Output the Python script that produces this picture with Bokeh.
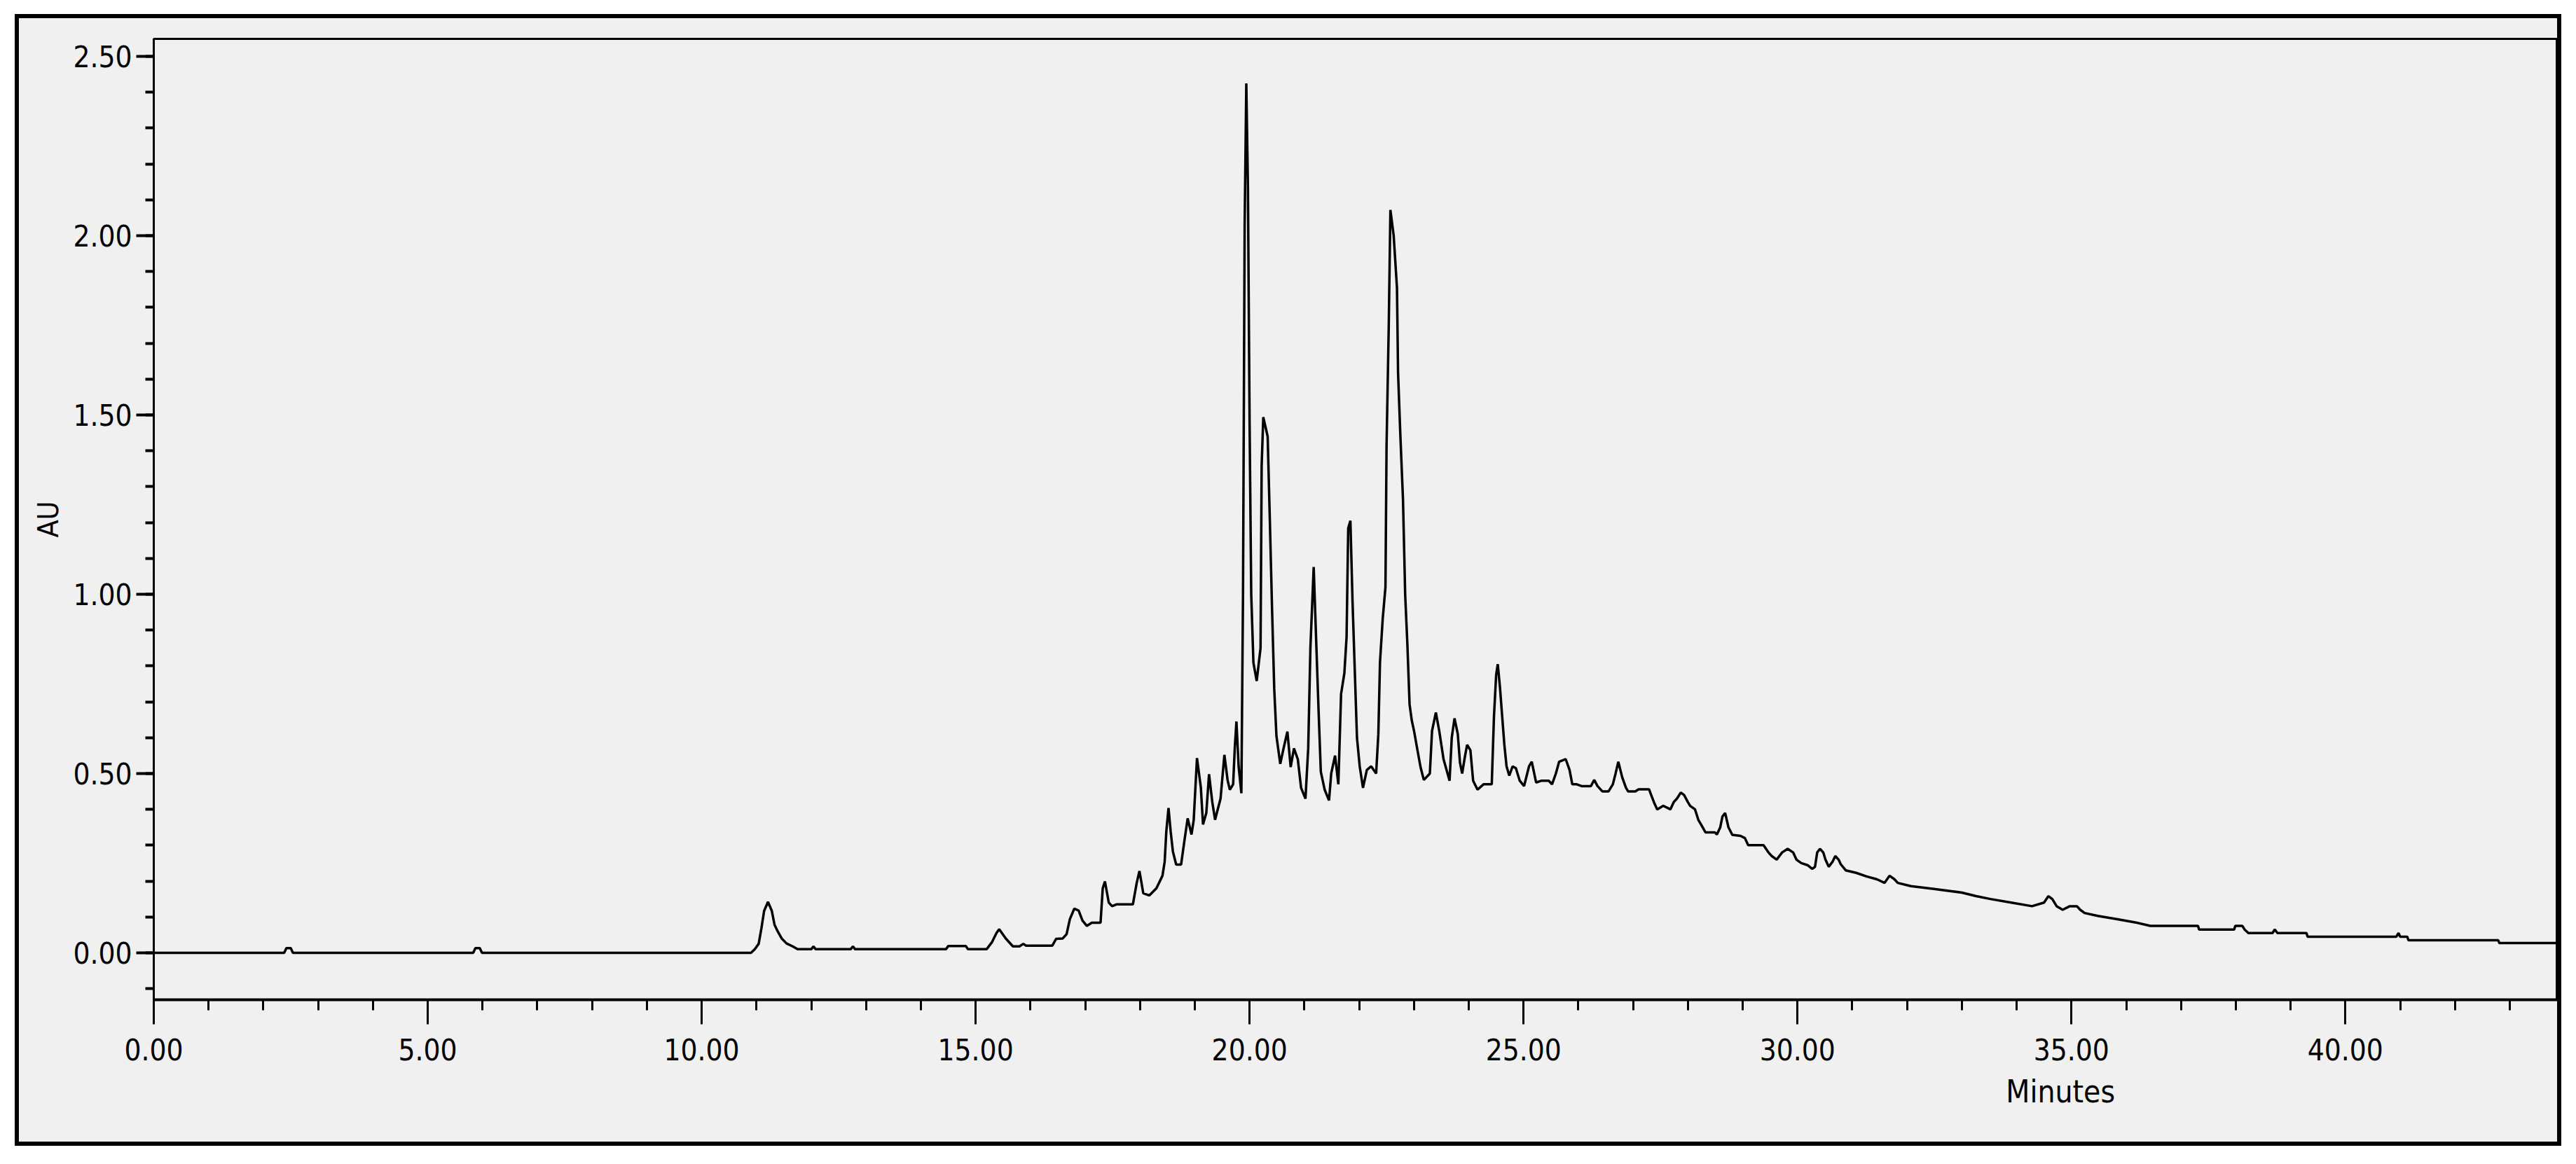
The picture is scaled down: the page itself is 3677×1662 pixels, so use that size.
from bokeh.plotting import figure
from bokeh.models import (Range1d, FixedTicker, PrintfTickFormatter, ColumnDataSource,
                          LinearAxis, CustomJSTickFormatter)
from bokeh.embed import file_html
from bokeh.resources import INLINE

# ---- data ----
TIME_MIN = [
    0.00, 2.38, 2.42, 2.50, 2.54, 5.83, 5.87, 5.95, 5.99, 10.90, 10.97, 11.04, 11.09, 11.14, 11.21,
    11.28, 11.33, 11.39, 11.46, 11.55, 11.66, 11.75, 12.00, 12.04, 12.08, 12.72, 12.76, 12.80,
    14.46, 14.50, 14.82, 14.86, 15.20, 15.30, 15.38, 15.43, 15.55, 15.68, 15.80, 15.87, 15.92,
    16.40, 16.47, 16.59, 16.66, 16.72, 16.80, 16.88, 16.95, 17.03, 17.12, 17.28, 17.32, 17.36,
    17.43, 17.49, 17.57, 17.87, 17.94, 17.99, 18.06, 18.17, 18.30, 18.41, 18.45, 18.48, 18.52,
    18.56, 18.60, 18.66, 18.75, 18.81, 18.87, 18.94, 18.98, 19.04, 19.11, 19.15, 19.21, 19.26,
    19.32, 19.37, 19.47, 19.54, 19.60, 19.64, 19.70, 19.73, 19.76, 19.80, 19.85, 19.88, 19.91,
    19.94, 19.97, 20.00, 20.03, 20.07, 20.13, 20.20, 20.22, 20.25, 20.33, 20.37, 20.41, 20.45,
    20.49, 20.56, 20.62, 20.69, 20.75, 20.81, 20.88, 20.94, 21.02, 21.07, 21.11, 21.15, 21.17,
    21.22, 21.26, 21.30, 21.37, 21.45, 21.49, 21.56, 21.62, 21.67, 21.73, 21.77, 21.80, 21.84,
    21.88, 21.92, 21.96, 22.01, 22.07, 22.14, 22.22, 22.31, 22.35, 22.38, 22.43, 22.48, 22.50,
    22.54, 22.57, 22.63, 22.69, 22.71, 22.75, 22.80, 22.84, 22.88, 22.92, 22.96, 23.00, 23.07,
    23.12, 23.18, 23.29, 23.33, 23.40, 23.46, 23.54, 23.65, 23.69, 23.74, 23.80, 23.84, 23.88,
    23.93, 23.97, 24.03, 24.08, 24.16, 24.27, 24.42, 24.46, 24.50, 24.53, 24.57, 24.61, 24.65,
    24.69, 24.74, 24.80, 24.86, 24.93, 25.01, 25.10, 25.15, 25.23, 25.33, 25.46, 25.52, 25.59,
    25.65, 25.77, 25.84, 25.89, 25.97, 26.06, 26.23, 26.29, 26.35, 26.44, 26.55, 26.63, 26.68,
    26.73, 26.80, 26.87, 26.91, 27.04, 27.10, 27.29, 27.33, 27.38, 27.44, 27.55, 27.68, 27.74,
    27.80, 27.87, 27.93, 28.00, 28.04, 28.13, 28.19, 28.25, 28.32, 28.49, 28.53, 28.59, 28.63,
    28.68, 28.74, 28.81, 28.96, 29.04, 29.10, 29.38, 29.47, 29.53, 29.62, 29.72, 29.82, 29.92,
    29.98, 30.07, 30.19, 30.27, 30.32, 30.36, 30.41, 30.47, 30.51, 30.57, 30.64, 30.69, 30.75,
    30.79, 30.88, 31.07, 31.26, 31.45, 31.59, 31.68, 31.77, 31.83, 32.07, 32.49, 33.00, 33.26,
    33.52, 33.90, 34.28, 34.50, 34.58, 34.65, 34.73, 34.84, 34.97, 35.10, 35.16, 35.24, 35.48,
    35.82, 36.16, 36.44, 37.31, 37.33, 37.97, 37.99, 38.12, 38.16, 38.23, 38.67, 38.71, 38.76,
    39.29, 39.31, 40.93, 40.97, 41.00, 41.13, 41.15, 42.79, 42.81, 43.87,
]
ABSORBANCE_AU = [
    0.000, 0.000, 0.013, 0.013, 0.000, 0.000, 0.013, 0.013, 0.000, 0.000, 0.010, 0.025, 0.068, 0.117, 0.142,
    0.117, 0.078, 0.059, 0.040, 0.026, 0.018, 0.010, 0.010, 0.018, 0.010, 0.010, 0.018, 0.010,
    0.010, 0.019, 0.019, 0.010, 0.010, 0.030, 0.055, 0.066, 0.040, 0.018, 0.018, 0.025, 0.020,
    0.020, 0.039, 0.040, 0.052, 0.094, 0.123, 0.118, 0.090, 0.075, 0.084, 0.084, 0.180, 0.199,
    0.140, 0.130, 0.135, 0.135, 0.195, 0.228, 0.166, 0.160, 0.180, 0.215, 0.254, 0.338, 0.404,
    0.338, 0.283, 0.246, 0.246, 0.312, 0.375, 0.330, 0.370, 0.543, 0.462, 0.358, 0.390, 0.498,
    0.420, 0.371, 0.430, 0.552, 0.480, 0.455, 0.470, 0.572, 0.645, 0.520, 0.445, 1.000, 2.030,
    2.425, 2.137, 1.480, 1.000, 0.809, 0.758, 0.850, 1.357, 1.494, 1.440, 1.205, 0.960, 0.736,
    0.605, 0.527, 0.570, 0.617, 0.518, 0.570, 0.540, 0.460, 0.430, 0.570, 0.851, 1.000, 1.076,
    0.850, 0.672, 0.505, 0.455, 0.425, 0.500, 0.550, 0.470, 0.722, 0.780, 0.880, 1.184, 1.205,
    0.975, 0.787, 0.600, 0.520, 0.460, 0.510, 0.520, 0.500, 0.610, 0.810, 0.932, 1.020, 1.416,
    1.748, 2.072, 2.000, 1.855, 1.617, 1.450, 1.264, 0.998, 0.860, 0.693, 0.648, 0.620, 0.560,
    0.518, 0.482, 0.500, 0.619, 0.670, 0.620, 0.540, 0.480, 0.600, 0.654, 0.610, 0.530, 0.500,
    0.547, 0.580, 0.565, 0.480, 0.455, 0.470, 0.470, 0.658, 0.775, 0.805, 0.740, 0.660, 0.580,
    0.520, 0.494, 0.520, 0.515, 0.480, 0.465, 0.520, 0.533, 0.475, 0.480, 0.480, 0.470, 0.500,
    0.533, 0.540, 0.510, 0.470, 0.470, 0.465, 0.465, 0.482, 0.465, 0.450, 0.450, 0.470, 0.500,
    0.533, 0.490, 0.460, 0.450, 0.450, 0.456, 0.456, 0.440, 0.420, 0.400, 0.410, 0.400, 0.420,
    0.430, 0.447, 0.440, 0.420, 0.410, 0.400, 0.371, 0.355, 0.336, 0.336, 0.330, 0.350, 0.380,
    0.390, 0.350, 0.329, 0.326, 0.320, 0.300, 0.300, 0.280, 0.270, 0.260, 0.280, 0.290, 0.280,
    0.260, 0.250, 0.244, 0.234, 0.240, 0.280, 0.290, 0.280, 0.260, 0.240, 0.254, 0.270, 0.260,
    0.247, 0.230, 0.223, 0.213, 0.205, 0.195, 0.215, 0.205, 0.195, 0.186, 0.178, 0.168, 0.158,
    0.150, 0.140, 0.130, 0.140, 0.158, 0.150, 0.130, 0.120, 0.130, 0.130, 0.120, 0.111, 0.103,
    0.094, 0.085, 0.075, 0.075, 0.065, 0.065, 0.075, 0.075, 0.065, 0.055, 0.055, 0.065, 0.055,
    0.055, 0.045, 0.045, 0.055, 0.045, 0.045, 0.035, 0.035, 0.027, 0.027,
]
X_MAJOR = [0, 5, 10, 15, 20, 25, 30, 35, 40]
X_MINOR = [m for m in range(0, 44) if m % 5 != 0]
Y_MAJOR = [0.0, 0.5, 1.0, 1.5, 2.0, 2.5]
Y_MINOR = [round(-0.1 + 0.1 * i, 1) for i in range(27)]
X_TITLE = "Minutes"
X_TITLE_AT = [34.8]
Y_TITLE = "AU"

FONT = "DejaVu Sans Condensed"
GRAY = "#f0f0f0"

p = figure(
    width=3623, height=1604,
    x_range=Range1d(0, 43.87), y_range=Range1d(-0.131, 2.549),
    output_backend="svg", toolbar_location=None,
    min_border_left=192, min_border_right=0, min_border_top=29, min_border_bottom=203,
    background_fill_color=GRAY, border_fill_color=GRAY,
    outline_line_color="black", outline_line_width=3,
)
p.styles = {"outline": "6px solid black", "position": "relative", "left": "27px", "top": "26px"}

p.grid.visible = False

src = ColumnDataSource(dict(t=TIME_MIN, v=ABSORBANCE_AU))
p.line("t", "v", source=src, line_color="black", line_width=3.5)

xa = p.xaxis[0]
xa.ticker = FixedTicker(ticks=X_MAJOR, minor_ticks=X_MINOR)
xa.formatter = PrintfTickFormatter(format="%.2f")
xa.axis_line_width = 4
xa.axis_line_color = "black"
xa.major_tick_line_width = 3
xa.minor_tick_line_width = 3
xa.major_tick_out = 35
xa.major_tick_in = 0
xa.minor_tick_out = 15
xa.minor_tick_in = 0
xa.major_label_standoff = 20
xa.major_label_text_font = FONT
xa.major_label_text_font_size = "42px"
xa.major_label_text_color = "black"

ya = p.yaxis[0]
ya.ticker = FixedTicker(ticks=Y_MAJOR, minor_ticks=Y_MINOR)
ya.formatter = PrintfTickFormatter(format="%.2f")
ya.axis_line_width = 3
ya.axis_line_color = "black"
ya.major_tick_line_width = 4
ya.minor_tick_line_width = 4
ya.major_tick_out = 25
ya.major_tick_in = 0
ya.minor_tick_out = 12
ya.minor_tick_in = 0
ya.major_label_standoff = 6
ya.major_label_text_font = FONT
ya.major_label_text_font_size = "42px"
ya.major_label_text_color = "black"
ya.axis_label = Y_TITLE
ya.axis_label_text_font = FONT
ya.axis_label_text_font_style = "normal"
ya.axis_label_text_font_size = "41px"
ya.axis_label_text_color = "black"
ya.axis_label_standoff = 8

title_axis = LinearAxis(
    ticker=FixedTicker(ticks=X_TITLE_AT, minor_ticks=[]),
    formatter=CustomJSTickFormatter(code="return '%s';" % X_TITLE),
    axis_line_color=None, major_tick_line_color=None, minor_tick_line_color=None,
    major_tick_out=0, major_tick_in=0, minor_tick_out=0, minor_tick_in=0,
    major_label_standoff=16,
    major_label_text_font=FONT, major_label_text_font_size="44px",
    major_label_text_color="black",
)
p.add_layout(title_axis, "below")

open("out.html", "w").write(file_html(p, INLINE))
